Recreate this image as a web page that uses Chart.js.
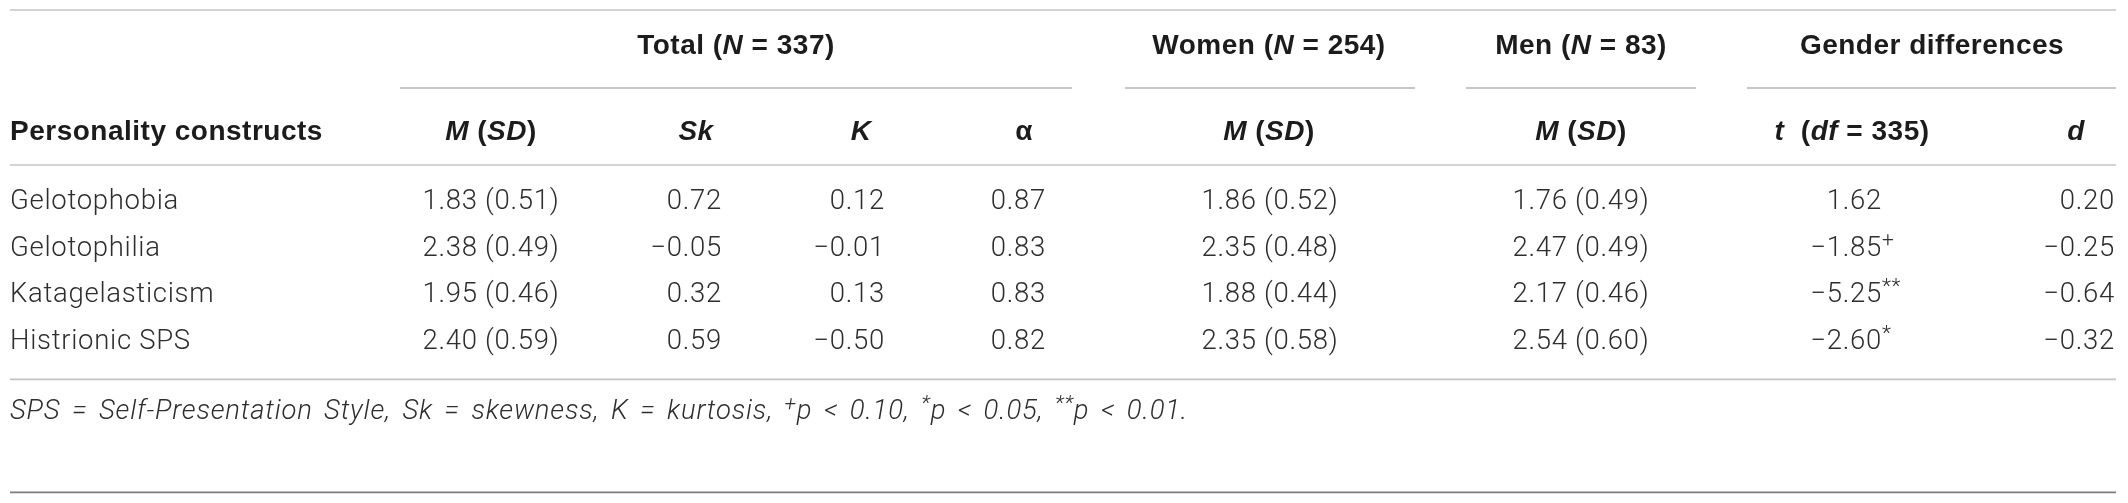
<!DOCTYPE html>
<html>
<head>
<meta charset="utf-8">
<script src="https://cdn.jsdelivr.net/npm/chart.js@4.4.1/dist/chart.umd.min.js"></script>
<style>
    html, body { margin: 0; padding: 0; background: #fff; }
    #wrap { width: 2128px; height: 503px; }
</style>
</head>
<body>
<div id="wrap"><canvas id="tableChart" width="2128" height="503"></canvas></div>
<script>
// Data of the table
const constructs = ["Gelotophobia", "Gelotophilia", "Katagelasticism", "Histrionic SPS"];
const totalMean = [1.83, 2.38, 1.95, 2.40];
const totalSd = [0.51, 0.49, 0.46, 0.59];
const totalSkew = [0.72, -0.05, 0.32, 0.59];
const totalKurt = [0.12, -0.01, 0.13, -0.50];
const totalAlpha = [0.87, 0.83, 0.83, 0.82];
const womenMean = [1.86, 2.35, 1.88, 2.35];
const womenSd = [0.52, 0.48, 0.44, 0.58];
const menMean = [1.76, 2.47, 2.17, 2.54];
const menSd = [0.49, 0.49, 0.46, 0.60];
const tValues = [1.62, -1.85, -5.25, -2.60];
const tMarks = ["", "+", "**", "*"];
const dValues = [0.20, -0.25, -0.64, -0.32];

const fmt = v => (v < 0 ? "\u2212" : "") + Math.abs(v).toFixed(2);
const meanSd = (m, s) => m.map((v, i) => `${fmt(v)} (${fmt(s[i])})`);

// Layout (x in px units of the x scale, rows in row-pitch units from the first data row)
const cellColumns = [
    { x: 10, align: "left", texts: constructs },
    { x: 491, align: "center", texts: meanSd(totalMean, totalSd) },
    { x: 722, align: "right", texts: totalSkew.map(fmt) },
    { x: 885, align: "right", texts: totalKurt.map(fmt) },
    { x: 1046, align: "right", texts: totalAlpha.map(fmt) },
    { x: 1270, align: "center", texts: meanSd(womenMean, womenSd) },
    { x: 1581, align: "center", texts: meanSd(menMean, menSd) },
    { x: 1882, align: "right", texts: tValues.map(fmt), marks: tMarks },
    { x: 2115, align: "right", texts: dValues.map(fmt) },
];

const msdHead = [["M", "bi"], [" (", "b"], ["SD", "bi"], [")", "b"]];
const groupHeaders = [
    { x: 736, from: 400, to: 1072, runs: [["Total (", "b"], ["N", "bi"], [" = 337)", "b"]] },
    { x: 1269, from: 1125, to: 1415, runs: [["Women (", "b"], ["N", "bi"], [" = 254)", "b"]] },
    { x: 1581, from: 1466, to: 1696, runs: [["Men (", "b"], ["N", "bi"], [" = 83)", "b"]] },
    { x: 1932, from: 1747, to: 2116, runs: [["Gender differences", "b"]] },
];
const subHeaders = [
    { x: 10, align: "left", runs: [["Personality constructs", "b"]] },
    { x: 491, runs: msdHead },
    { x: 696, runs: [["Sk", "bi"]] },
    { x: 861, runs: [["K", "bi"]] },
    { x: 1024, runs: [["\u03b1", "b"]] },
    { x: 1269, runs: msdHead },
    { x: 1581, runs: msdHead },
    { x: 1852, runs: [["t", "bi"], ["  (", "b"], ["df", "bi"], [" = 335)", "b"]] },
    { x: 2076, runs: [["d", "bi"]] },
];
const noteRuns = [
    ["SPS = Self-Presentation Style, Sk = skewness, K = kurtosis, ", "i"],
    ["+", "is"], ["p < 0.10, ", "i"],
    ["*", "is"], ["p < 0.05, ", "i"],
    ["**", "is"], ["p < 0.01.", "i"],
];
const NOTE_WIDTH = 1178;

const rowTopRule = -4.11;
const rowGroupHead = -3.34;
const rowUnderline = -2.44;
const rowSubHead = -1.50;
const rowHeadRule = -0.79;
const rowBottomRule = 3.8;
const rowNote = 4.5;
const rowEndRule = 6.22;

const BODY_SIZE = 27.5;
const BODY_SPACING = 0.7;
const HEAD_SIZE = 28;
const HEAD_SPACING = 0.5;
const TEXT_DARK = "#1c1c1c";
const TEXT_BODY = "#2e2e2e";

function fontFor(style, size) {
    const bold = style.includes("b");
    const italic = style.includes("i");
    const sz = style.includes("s") ? Math.round(size * 0.76) : size;
    if (bold) return `${italic ? "italic " : ""}bold ${sz}px "Liberation Sans", Arial, sans-serif`;
    return `${italic ? "italic " : ""}300 ${sz}px Roboto, "Liberation Sans", sans-serif`;
}

function runsWidth(ctx, runs, size, spacing) {
    let total = 0;
    ctx.letterSpacing = spacing + "px";
    runs.forEach(([t, s]) => { ctx.font = fontFor(s, size); total += ctx.measureText(t).width; });
    return total;
}

function drawRuns(ctx, runs, x, y, align, size, color, spacing) {
    const total = runsWidth(ctx, runs, size, spacing);
    let cx = align === "left" ? x : align === "right" ? x - total : x - total / 2;
    ctx.fillStyle = color;
    ctx.textAlign = "left";
    ctx.textBaseline = "middle";
    ctx.letterSpacing = spacing + "px";
    runs.forEach(([t, s]) => {
        ctx.font = fontFor(s, size);
        const dy = s.includes("s") ? -size * 0.28 : 0;
        ctx.fillText(t, cx, y + dy);
        cx += ctx.measureText(t).width;
    });
}

// note: words drawn one by one, spaces widened so the line keeps the printed width
function drawNote(ctx, runs, x, y, size, color, spacing, width) {
    const items = [];
    runs.forEach(([t, s]) => {
        t.split(" ").forEach((w, k) => {
            if (k > 0) items.push({ space: true });
            if (w) items.push({ w, s });
        });
    });
    ctx.letterSpacing = spacing + "px";
    let wordsW = 0, spaces = 0;
    items.forEach(it => {
        if (it.space) { spaces++; return; }
        ctx.font = fontFor(it.s, size);
        it.width = ctx.measureText(it.w).width;
        wordsW += it.width;
    });
    const gap = (width - wordsW) / spaces;
    ctx.fillStyle = color;
    ctx.textAlign = "left";
    ctx.textBaseline = "middle";
    let cx = x;
    items.forEach(it => {
        if (it.space) { cx += gap; return; }
        ctx.font = fontFor(it.s, size);
        ctx.fillText(it.w, cx, y + (it.s.includes("s") ? -size * 0.28 : 0));
        cx += it.width;
    });
}

function rule(ctx, x0, x1, y, color, width) {
    ctx.save();
    ctx.strokeStyle = color;
    ctx.lineWidth = width;
    ctx.beginPath();
    ctx.moveTo(x0, y);
    ctx.lineTo(x1, y);
    ctx.stroke();
    ctx.restore();
}

const tablePlugin = {
    id: "tableText",
    afterDraw(chart) {
        const ctx = chart.ctx;
        const xs = chart.scales.x;
        const ys = chart.scales.y;
        const first = ys.getPixelForValue(0);
        const pitch = ys.getPixelForValue(1) - first;
        const rowY = r => first + r * pitch;
        const px = v => xs.getPixelForValue(v);
        const left = px(10), right = px(2116);

        ctx.save();
        // rules
        rule(ctx, left, right, rowY(rowTopRule), "#c4c4c4", 1.6);
        rule(ctx, left, right, rowY(rowHeadRule), "#c4c4c4", 1.6);
        rule(ctx, left, right, rowY(rowBottomRule), "#c4c4c4", 1.6);
        rule(ctx, left, right, rowY(rowEndRule), "#7d7d7d", 1.6);

        // spanning headers
        groupHeaders.forEach(h => {
            drawRuns(ctx, h.runs, px(h.x), rowY(rowGroupHead), "center", HEAD_SIZE, TEXT_DARK, HEAD_SPACING);
            rule(ctx, px(h.from), px(h.to), rowY(rowUnderline), "#b4b4b4", 1.6);
        });
        subHeaders.forEach(h => {
            drawRuns(ctx, h.runs, px(h.x), rowY(rowSubHead), h.align || "center", HEAD_SIZE, TEXT_DARK, HEAD_SPACING);
        });

        // cells, placed on the points the library laid out
        cellColumns.forEach((col, di) => {
            const meta = chart.getDatasetMeta(di);
            meta.data.forEach((pt, i) => {
                const runs = [[col.texts[i], ""]];
                if (col.marks) {
                    drawRuns(ctx, runs, pt.x, pt.y, "right", BODY_SIZE, TEXT_BODY, BODY_SPACING);
                    if (col.marks[i]) {
                        drawRuns(ctx, [[col.marks[i], "s"]], pt.x, pt.y, "left", BODY_SIZE, TEXT_BODY, BODY_SPACING);
                    }
                } else {
                    drawRuns(ctx, runs, pt.x, pt.y, col.align, BODY_SIZE, TEXT_BODY, BODY_SPACING);
                }
            });
        });

        drawNote(ctx, noteRuns, left, rowY(rowNote), BODY_SIZE, TEXT_BODY, 0.8, NOTE_WIDTH);
        ctx.restore();
    }
};

new Chart(document.getElementById("tableChart"), {
    type: "scatter",
    data: {
        datasets: cellColumns.map(col => ({
            data: constructs.map(c => ({ x: col.x, y: c })),
            pointRadius: 0,
            pointHoverRadius: 0,
        })),
    },
    options: {
        responsive: false,
        devicePixelRatio: 1,
        animation: false,
        events: [],
        layout: { padding: { top: 178.6, bottom: 137.6, left: 0, right: 0 } },
        plugins: { legend: { display: false }, tooltip: { enabled: false } },
        scales: {
            x: { type: "linear", min: 0, max: 2128, display: false },
            y: { type: "category", labels: constructs, offset: true, display: false },
        },
    },
    plugins: [tablePlugin],
});
</script>
</body>
</html>
